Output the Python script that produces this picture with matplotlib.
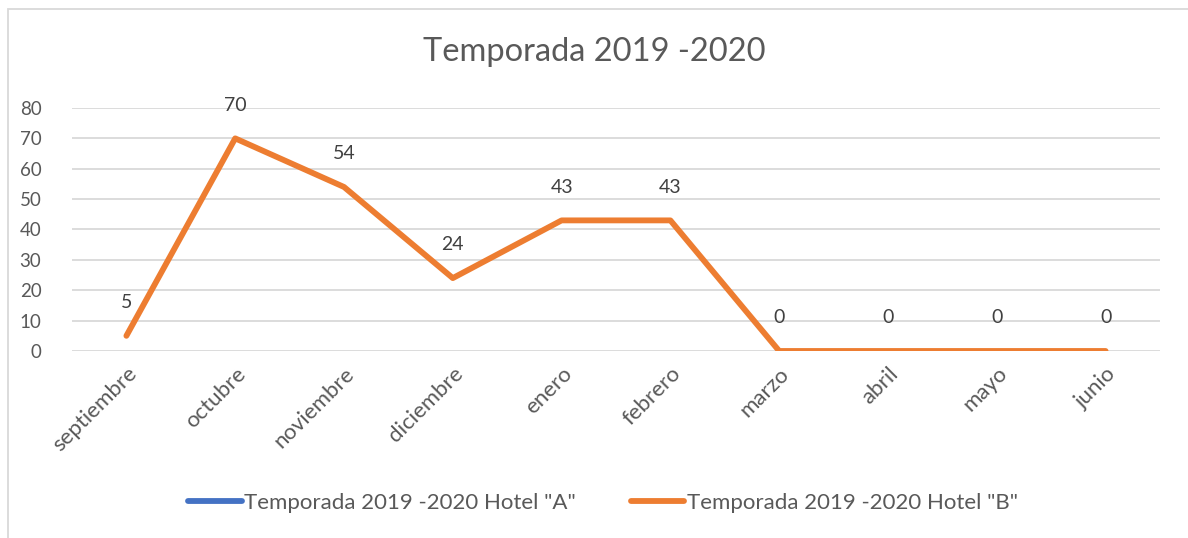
import matplotlib
matplotlib.use("Agg")
import matplotlib.pyplot as plt
import numpy as np
from matplotlib.patches import Rectangle

plt.rcParams['font.family'] = ['Lato', 'DejaVu Sans']

months = ["septiembre", "octubre", "noviembre", "diciembre", "enero",
          "febrero", "marzo", "abril", "mayo", "junio"]
hotel_a = [np.nan] * 10
hotel_b = [5, 70, 54, 24, 43, 43, 0, 0, 0, 0]
yticks = [0, 10, 20, 30, 40, 50, 60, 70, 80]
title = "Temporada 2019 -2020"
label_a = 'Temporada 2019 -2020 Hotel "A"'
label_b = 'Temporada 2019 -2020 Hotel "B"'

TXT = "#595959"
W, H = 1188, 538
fig = plt.figure(figsize=(W / 100, H / 100), dpi=100)
ax = fig.add_axes([72 / W, 1 - 351 / H, (1160 - 72) / W, (351 - 108) / H])

x = np.arange(len(months))
ax.plot(x, hotel_a, color="#4472C4", lw=4.2, solid_capstyle="round", label=label_a)
ax.plot(x, hotel_b, color="#ED7D31", lw=4.2, solid_capstyle="round",
        solid_joinstyle="round", label=label_b)

for xi, v in zip(x, hotel_b):
    ax.annotate(str(v), (xi, v), xytext=(0, 24), textcoords="offset points",
                ha="center", va="center", fontsize=14, color="#404040")

ax.set_xlim(-0.5, len(months) - 0.5)
ax.set_ylim(0, 80)
ax.set_yticks(yticks)
ax.set_yticklabels([str(t) for t in yticks], fontsize=13.5, color=TXT)
ax.set_xticks(x)
ax.set_xticklabels(months, rotation=45, ha="right", rotation_mode="anchor",
                   fontsize=16, color=TXT)
ax.tick_params(axis="both", length=0)
ax.tick_params(axis="y", pad=22)
ax.tick_params(axis="x", pad=9)
ax.grid(axis="y", color="#D9D9D9", lw=1.3)
ax.set_axisbelow(True)
for s in ax.spines.values():
    s.set_visible(False)

fig.text(0.5, 1 - 52 / H, title, ha="center", va="center", fontsize=23.5, color=TXT)

fig.legend(loc="center", bbox_to_anchor=(0.5 + 9 / W, 1 - 503 / H), ncol=2,
           frameon=False, fontsize=16, handlelength=2.4, handletextpad=0.1,
           columnspacing=2.5, labelcolor=TXT)

fig.patches.append(Rectangle((8 / W, -0.05), 1.1, 1 - 9 / H + 0.05,
                             transform=fig.transFigure, fill=False,
                             edgecolor="#D9D9D9", lw=1.3))

fig.savefig("out.png", dpi=100)
